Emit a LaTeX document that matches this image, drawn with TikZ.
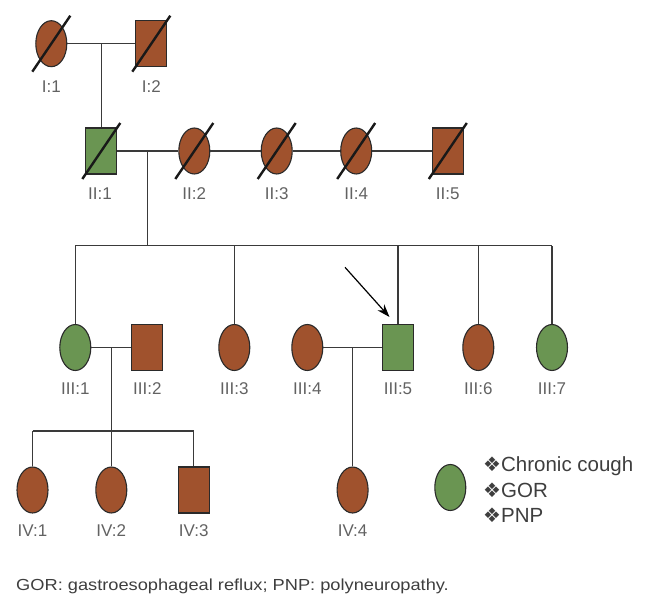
\documentclass[tikz,border=0pt]{standalone}
\usepackage{fontspec}
\setmainfont{Liberation Sans}
\newfontfamily\symfont{DejaVu Sans}
\newfontfamily\footfont[FakeStretch=1.14]{Liberation Sans}
\usetikzlibrary{shapes.geometric,arrows.meta,calc}
\definecolor{brownfill}{HTML}{A0522D}
\definecolor{greenfill}{HTML}{6A9552}
\definecolor{outl}{HTML}{2A2A2A}
\definecolor{linec}{HTML}{3A3A3A}
\definecolor{labc}{HTML}{626262}
\definecolor{legc}{HTML}{3E3E3E}
\newcommand{\dia}{{\symfont\fontsize{20}{24}\selectfont ❖}}
\tikzset{
  fem/.style={ellipse,draw=outl,line width=1.1pt,minimum width=31pt,minimum height=46pt,inner sep=0pt},
  mal/.style={rectangle,draw=outl,line width=1.1pt,minimum width=31pt,minimum height=46pt,inner sep=0pt},
  aff/.style={fill=greenfill},
  una/.style={fill=brownfill},
  conn/.style={draw=linec,line width=1.2pt},
  slash/.style={draw=black!90,line width=2.4pt},
  lab/.style={text=labc,font=\fontsize{17}{20}\selectfont,inner sep=0pt},
  leg/.style={text=legc,font=\fontsize{20.5}{24}\selectfont,inner sep=0pt,anchor=base west},
}
\begin{document}
\begin{tikzpicture}[x=1pt,y=-1pt]
\useasboundingbox (0,0) rectangle (650,594);
% Generation I
\node[fem,una] (I1) at (51.3,43.7) {};
\node[mal,una] (I2) at (151.3,43.7) {};
% Generation II
\node[mal,aff] (II1) at (101.3,151) {};
\node[fem,una] (II2) at (194.3,151) {};
\node[fem,una] (II3) at (276.7,151) {};
\node[fem,una] (II4) at (356.2,151) {};
\node[mal,una] (II5) at (447.8,151) {};
% Generation III
\node[fem,aff] (III1) at (75.3,347.5) {};
\node[mal,una] (III2) at (147.3,347.5) {};
\node[fem,una] (III3) at (234.3,347.5) {};
\node[fem,una] (III4) at (307.3,347.5) {};
\node[mal,aff] (III5) at (398,347.5) {};
\node[fem,una] (III6) at (478.3,347.5) {};
\node[fem,aff] (III7) at (552,347.5) {};
% Generation IV
\node[fem,una] (IV1) at (32.5,490) {};
\node[fem,una] (IV2) at (111.3,490) {};
\node[mal,una] (IV3) at (193.7,490) {};
\node[fem,una] (IV4) at (352.6,490) {};
% legend symbol
\node[fem,aff] (legsym) at (450.3,487.5) {};

% slashes (deceased)
\foreach \n in {I1,I2,II1,II2,II3,II4,II5}{
  \draw[slash] ($(\n.center)+(-19,28)$) -- ($(\n.center)+(19,-28)$);
}

% connectors
\coordinate (m1) at (101.3,43.7);
\draw[conn] (I1.east) -- (I2.west);
\draw[conn] (m1) -- (II1.north);
\draw[conn] (II1.east) -- (II2.west);
\draw[conn] (II2.east) -- (II3.west);
\draw[conn] (II3.east) -- (II4.west);
\draw[conn] (II4.east) -- (II5.west);
\coordinate (m2) at (147.3,151);
\coordinate (s3) at (147.3,245.7);
\draw[conn] (m2) -- (s3);
\draw[conn] (III1.north |- s3) -- (III7.north |- s3);
\foreach \n in {III1,III3,III5,III6,III7}{
  \draw[conn] (\n.north) -- (\n.north |- s3);
}
\draw[conn] (III1.east) -- (III2.west);
\draw[conn] (III4.east) -- (III5.west);
\coordinate (m3) at (111.3,347.5);
\coordinate (s4) at (111.3,431);
\draw[conn] (m3) -- (s4);
\draw[conn] (IV1.north |- s4) -- (IV3.north |- s4);
\foreach \n in {IV1,IV2,IV3}{
  \draw[conn] (\n.north) -- (\n.north |- s4);
}
\coordinate (m4) at (352.6,347.5);
\draw[conn] (m4) -- (IV4.north);

% proband arrow
\coordinate (arrs) at (345,267.3);
\coordinate (arrt) at (389.5,317);
\draw[line width=1.2pt,black,-{Stealth[length=13pt,width=9pt]}] (arrs) -- (arrt);

% labels
\node[lab] (lI1) at (51.3,87) {I:1};
\node[lab] (lI2) at (151.3,87) {I:2};
\node[lab] (lII1) at (100,193.3) {II:1};
\node[lab] (lII2) at (194.3,193.3) {II:2};
\node[lab] (lII3) at (276.7,193.3) {II:3};
\node[lab] (lII4) at (356.2,193.3) {II:4};
\node[lab] (lII5) at (447.8,193.3) {II:5};
\node[lab] (lIII1) at (75.3,389) {III:1};
\node[lab] (lIII2) at (147.3,389) {III:2};
\node[lab] (lIII3) at (234.3,389) {III:3};
\node[lab] (lIII4) at (307.3,389) {III:4};
\node[lab] (lIII5) at (398,389) {III:5};
\node[lab] (lIII6) at (478.3,389) {III:6};
\node[lab] (lIII7) at (552,389) {III:7};
\node[lab] (lIV1) at (32.5,530.7) {IV:1};
\node[lab] (lIV2) at (111.3,530.7) {IV:2};
\node[lab] (lIV3) at (193.7,530.7) {IV:3};
\node[lab] (lIV4) at (352.6,530.7) {IV:4};

% legend text
\node[leg] (leg1) at (483,471.5) {\dia Chronic cough};
\node[leg] (leg2) at (483,497.3) {\dia GOR};
\node[leg] (leg3) at (483,522.8) {\dia PNP};

% footnote
\node[anchor=base west,inner sep=0pt,text=legc,font=\footfont\fontsize{16}{19}\selectfont] (foot) at (16,590.5) {GOR: gastroesophageal reflux; PNP: polyneuropathy.};
\end{tikzpicture}
\end{document}
